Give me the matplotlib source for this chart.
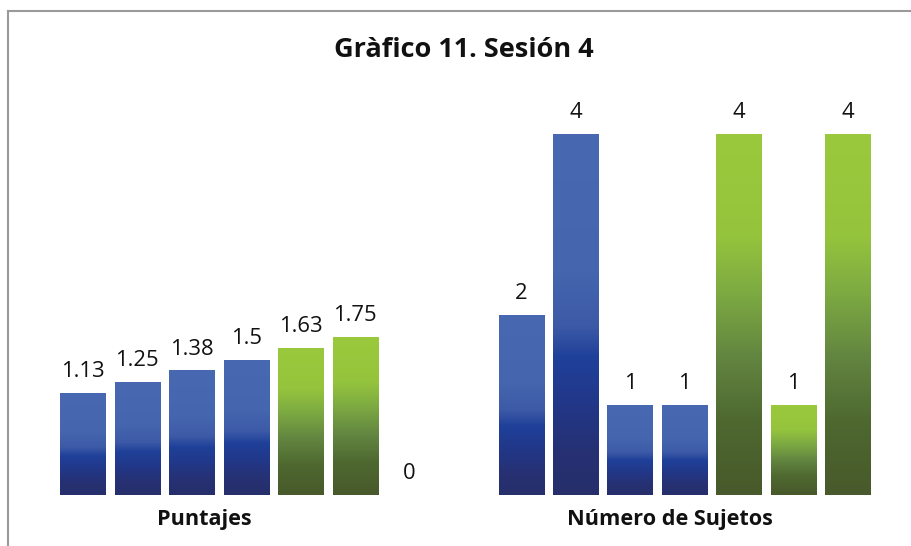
import numpy as np
import matplotlib
matplotlib.use("Agg")
from matplotlib import pyplot as plt
from matplotlib.colors import LinearSegmentedColormap
from matplotlib.lines import Line2D
from matplotlib.transforms import blended_transform_factory

plt.rcParams['font.family'] = ['Open Sans', 'DejaVu Sans']

categories = ["Puntajes", "Número de Sujetos"]
s1 = [1.13, 2]
s2 = [1.25, 4]
s3 = [1.38, 1]
s4 = [1.5, 1]
s5 = [1.63, 4]
s6 = [1.75, 1]
s7 = [0, 4]
series = [s1, s2, s3, s4, s5, s6, s7]
kinds = ["blue", "blue", "blue", "blue", "green", "green", "green"]

# vertical gradients, bottom -> top of each bar
blue = LinearSegmentedColormap.from_list("blue_grad", [
    (0.0, "#272f6b"), (0.12, "#263173"), (0.25, "#223788"),
    (0.38, "#1f4099"), (0.47, "#3d5aa7"), (0.62, "#4565ae"), (1.0, "#4868b1")])
green = LinearSegmentedColormap.from_list("green_grad", [
    (0.0, "#48592b"), (0.2, "#4e6830"), (0.38, "#628540"),
    (0.56, "#7daa42"), (0.72, "#95c43d"), (1.0, "#9bc93c")])
cmaps = {"blue": blue, "green": green}

fig = plt.figure(figsize=(9.11, 5.46), dpi=100)
ax = fig.add_axes([27 / 911, 51 / 546, 876.6 / 911, (495 - 89) / 546])

x = np.arange(len(categories))
step = 0.1243
width = 0.1027
grad = np.linspace(0, 1, 256).reshape(-1, 1)

for i, (vals, kind) in enumerate(zip(series, kinds)):
    pos = x + (i - 3) * step
    bars = ax.bar(pos, vals, width, color="none", edgecolor="none")
    for bar, v in zip(bars, vals):
        if v > 0:
            x0, y0 = bar.get_x(), bar.get_y()
            im = ax.imshow(grad, cmap=cmaps[kind], origin="lower", aspect="auto",
                           extent=[x0, x0 + bar.get_width(), y0, y0 + bar.get_height()],
                           zorder=2)
            im.set_clip_path(bar)
        ax.annotate(f"{v:g}", (bar.get_x() + bar.get_width() / 2, v),
                    xytext=(0, 11.5), textcoords="offset points",
                    ha="center", va="baseline", fontsize=15.8, color="#111111")

ax.set_xlim(-0.5, 1.5)
ax.set_ylim(0, 4.5)
ax.axis("off")

# category names under each group
tr = blended_transform_factory(ax.transData, fig.transFigure)
for xc, name in zip([-0.0963, 0.967], categories):
    ax.text(xc, 1 - 525 / 546, name, transform=tr, ha="center", va="baseline",
            fontsize=15.6, fontweight="bold", color="#111111")

fig.text(464 / 911, 1 - 57 / 546, "Gràfico 11. Sesión 4", ha="center", va="baseline",
         fontsize=19.5, fontweight="bold", color="#111111")

# chart frame (left and top edges)
bx, by = 7.5 / 911, 1 - 11 / 546
fig.add_artist(Line2D([bx, bx], [0, by], transform=fig.transFigure, color="#9a9a9a", lw=1.5))
fig.add_artist(Line2D([bx, 1], [by, by], transform=fig.transFigure, color="#9a9a9a", lw=1.5))

fig.savefig("out.png", dpi=100, facecolor="white")
